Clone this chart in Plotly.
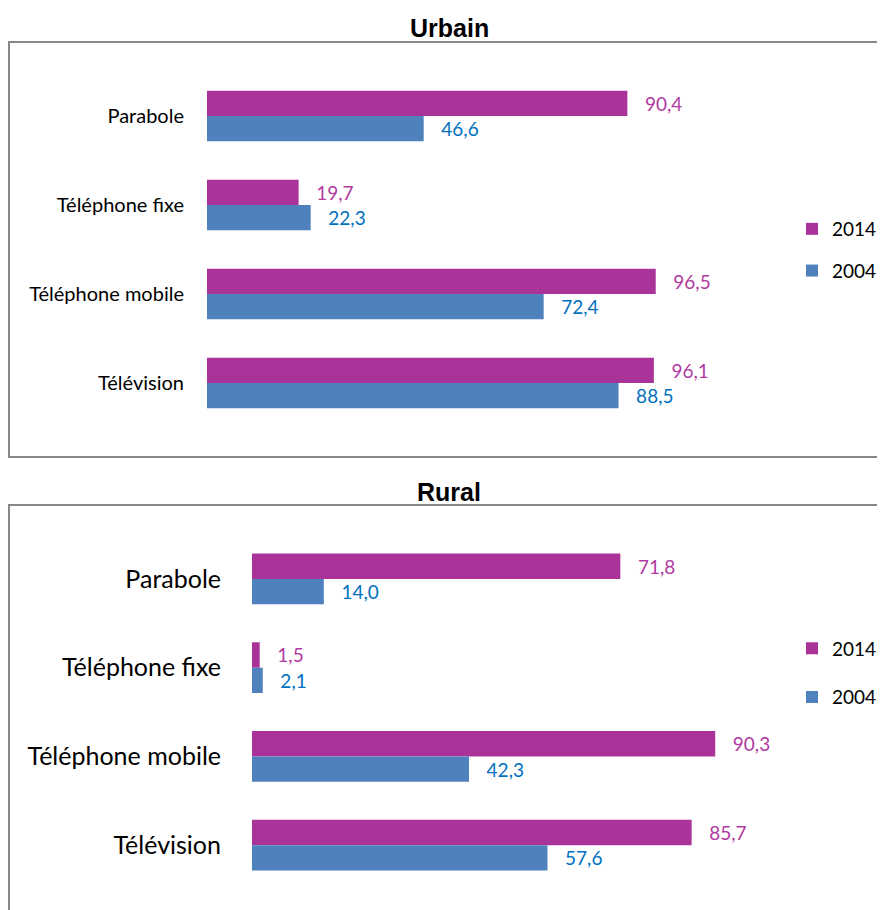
import plotly.graph_objects as go

categories = ["Parabole", "Téléphone fixe", "Téléphone mobile", "Télévision"]
urbain_2014 = [90.4, 19.7, 96.5, 96.1]
urbain_2004 = [46.6, 22.3, 72.4, 88.5]
rural_2014 = [71.8, 1.5, 90.3, 85.7]
rural_2004 = [14.0, 2.1, 42.3, 57.6]
series_names = ["2014", "2004"]

OFF = 8  # default body margin of the html page
W, H = 885 - OFF, 910 - OFF
C2014 = "#AA3399"
C2004 = "#4F81BD"
T2014 = "#B03AA0"
T2004 = "#0070C0"
FONT = "Lato"


def fmt(vals):
    return ["   " + f"{v:.1f}".replace(".", ",") for v in vals]


def px(x):
    return (x - OFF) / W


def py(y):
    return 1 - (y - OFF) / H


fig = go.Figure()

panels = [
    dict(v14=urbain_2014, v04=urbain_2004, xa="x", ya="y", leg="legend"),
    dict(v14=rural_2014, v04=rural_2004, xa="x2", ya="y2", leg="legend2"),
]
for p in panels:
    for name, vals, col, tcol in [
        (series_names[0], p["v14"], C2014, T2014),
        (series_names[1], p["v04"], C2004, T2004),
    ]:
        fig.add_trace(go.Bar(
            y=categories, x=vals, orientation="h", name=name,
            marker=dict(color=col, line=dict(width=0)),
            text=fmt(vals), textposition="outside", cliponaxis=False,
            textfont=dict(color=tcol, size=19, family=FONT),
            xaxis=p["xa"], yaxis=p["ya"], legend=p["leg"],
            legendgroup=p["leg"] + name,
        ))

fig.update_layout(
    width=W, height=H, margin=dict(l=0, r=0, t=0, b=0, autoexpand=False),
    paper_bgcolor="white", plot_bgcolor="white",
    barmode="group", bargap=0.43, bargroupgap=0,
    font=dict(family=FONT, color="black"),
    xaxis=dict(domain=[px(207), px(207 + 465)], range=[0, 100], visible=False,
               anchor="y"),
    yaxis=dict(domain=[py(427.5), py(71.5)], autorange="reversed", automargin=False,
               anchor="x", showline=False, showgrid=False, ticks="",
               ticklabelstandoff=22, tickfont=dict(size=20, family=FONT)),
    xaxis2=dict(domain=[px(252), px(252 + 513)], range=[0, 100], visible=False,
                anchor="y2"),
    yaxis2=dict(domain=[py(889.5), py(534.5)], autorange="reversed", automargin=False,
                anchor="x2", showline=False, showgrid=False, ticks="",
                ticklabelstandoff=30, tickfont=dict(size=25, family=FONT)),
    legend=dict(x=px(792), y=py(250), xanchor="left", yanchor="middle",
                font=dict(size=19, family=FONT), tracegroupgap=14,
                itemwidth=30, bgcolor="rgba(0,0,0,0)"),
    legend2=dict(x=px(792), y=py(673), xanchor="left", yanchor="middle",
                 font=dict(size=19, family=FONT), tracegroupgap=21,
                 itemwidth=30, bgcolor="rgba(0,0,0,0)"),
    showlegend=True,
)

fig.add_shape(type="rect", xref="paper", yref="paper",
              x0=px(9), x1=px(900), y0=py(457), y1=py(42),
              line=dict(color="#888888", width=2))
fig.add_shape(type="rect", xref="paper", yref="paper",
              x0=px(9), x1=px(900), y0=py(930), y1=py(505),
              line=dict(color="#888888", width=2))

fig.add_annotation(text="<b>Urbain</b>", x=px(449), y=py(28), xref="paper", yref="paper",
                   xanchor="center", yanchor="middle", showarrow=False,
                   font=dict(size=25, family="Liberation Sans", color="black"))
fig.add_annotation(text="<b>Rural</b>", x=px(449), y=py(492), xref="paper", yref="paper",
                   xanchor="center", yanchor="middle", showarrow=False,
                   font=dict(size=25, family="Liberation Sans", color="black"))

fig.write_html("out.html")
